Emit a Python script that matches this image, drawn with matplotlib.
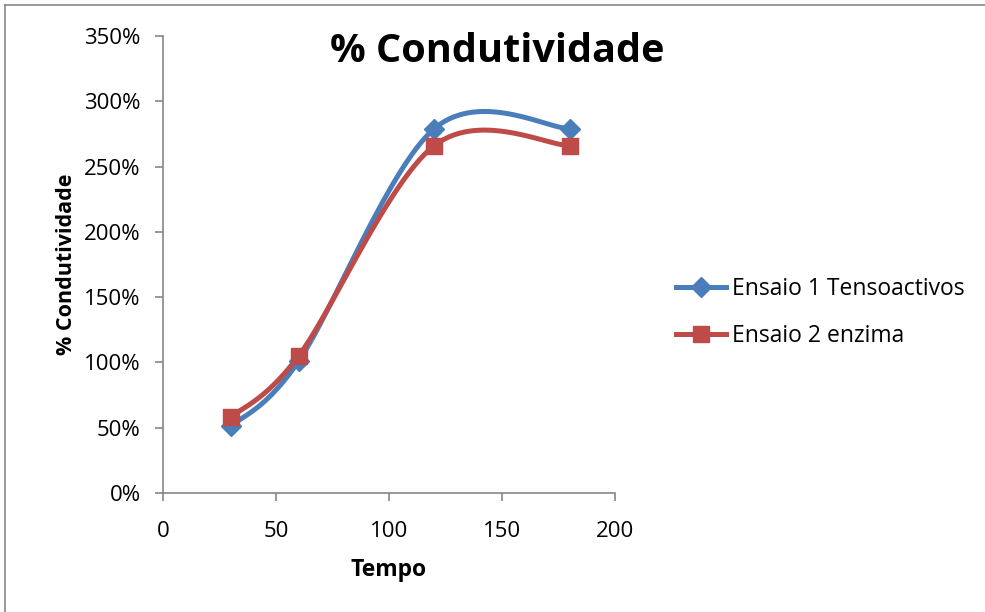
import matplotlib.pyplot as plt
import numpy as np
from matplotlib.lines import Line2D
from matplotlib.ticker import FuncFormatter

tempo = [30, 60, 120, 180]
ensaio1 = [0.51, 1.01, 2.79, 2.79]
ensaio2 = [0.58, 1.05, 2.66, 2.66]
nomes = ['Ensaio 1 Tensoactivos', 'Ensaio 2 enzima']

plt.rcParams['font.family'] = ['Open Sans', 'DejaVu Sans']


def suavizar(x, y, n=40):
	# curva suave tipo Excel (Catmull-Rom via Bezier)
	p = np.column_stack([x, y]).astype(float)
	p = np.vstack([p[0], p, p[-1]])
	out = []
	for i in range(1, len(p) - 2):
		p0, p1, p2, p3 = p[i - 1], p[i], p[i + 1], p[i + 2]
		c1 = p1 + (p2 - p0) / 6
		c2 = p2 - (p3 - p1) / 6
		t = np.linspace(0, 1, n)[:, None]
		seg = (1 - t)**3 * p1 + 3 * (1 - t)**2 * t * c1 + 3 * (1 - t) * t**2 * c2 + t**3 * p2
		out.append(seg)
	out = np.vstack(out)
	return out[:, 0], out[:, 1]


fig = plt.figure(figsize=(9.85, 6.12), dpi=100)
ax = fig.add_axes([0.1655, 0.1944, 0.4589, 0.7468])

cores = ['#4A7EBB', '#BE4B48']
marcas = ['D', 's']
tam = [10, 12]
for ys, cor, m, ms, nome in zip([ensaio1, ensaio2], cores, marcas, tam, nomes):
	xs_s, ys_s = suavizar(tempo, ys)
	ax.plot(xs_s, ys_s, color=cor, lw=3.6, solid_capstyle='round', zorder=2)
	ax.plot(tempo, ys, ls='none', marker=m, ms=ms, color=cor, zorder=3)

ax.set_xlim(0, 200)
ax.set_ylim(0, 3.5)
ax.set_xticks([0, 50, 100, 150, 200])
ax.set_yticks(np.arange(0, 3.51, 0.5))
ax.yaxis.set_major_formatter(FuncFormatter(lambda v, p: '%d%%' % round(v * 100)))

for s in ['top', 'right']:
	ax.spines[s].set_visible(False)
for s in ['left', 'bottom']:
	ax.spines[s].set_color('#868686')
	ax.spines[s].set_linewidth(1.2)
ax.tick_params(direction='out', length=6, width=1.2, color='#868686', labelsize=16, pad=10)
ax.tick_params(axis='x', pad=14)

fig.text(497 / 985, 1 - 51 / 612, '% Condutividade', fontsize=28.5, fontweight='bold',
	ha='center', va='center')
ax.set_xlabel('Tempo', fontsize=16.5, fontweight='bold', labelpad=12)
ax.set_ylabel('% Condutividade', fontsize=15.5, fontweight='bold', labelpad=5)

handles = [Line2D([], [], color=c, lw=3.6, marker=m, ms=ms) for c, m, ms in zip(cores, marcas, tam)]
fig.legend(handles, nomes, loc='center left', bbox_to_anchor=(0.665, 0.49), frameon=False,
	fontsize=16.5, handlelength=2.2, handletextpad=0.25, labelspacing=1.0)

# moldura da area do grafico
fig.add_artist(Line2D([5 / 985, 5 / 985], [0, 1 - 5 / 612], color='#868686', lw=1.2))
fig.add_artist(Line2D([5 / 985, 1], [1 - 5 / 612, 1 - 5 / 612], color='#868686', lw=1.2))

fig.savefig('out.png', dpi=100)
